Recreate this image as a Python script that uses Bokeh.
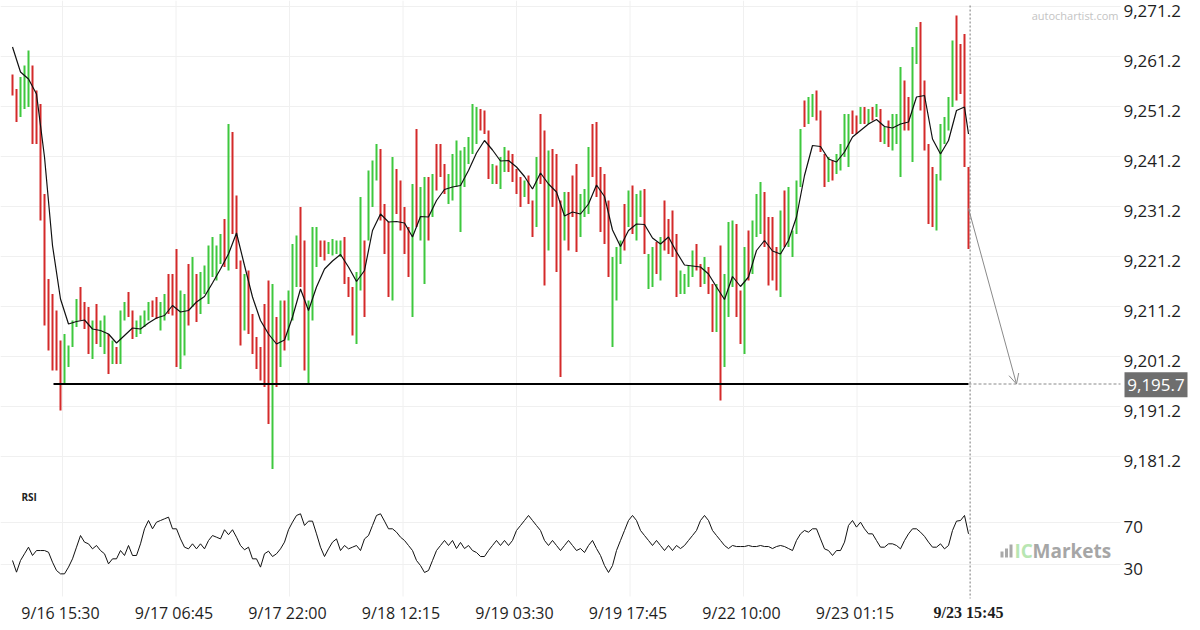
from bokeh.plotting import figure
from bokeh.models import Range1d, Span, Arrow, OpenHead, ColumnDataSource
from bokeh.core.properties import value
from bokeh.embed import file_html
from bokeh.resources import INLINE

# ---------------- data ----------------
high = [
    9257.6, 9254.7, 9257.1, 9259.4, 9262.4, 9259.4, 9254.4, 9251.7, 9233.7, 9216.7,
    9213.7, 9210.4, 9204.4, 9205.7, 9203.4, 9208.4, 9212.7, 9215.1, 9212.1, 9211.1,
    9208.4, 9211.7, 9208.4, 9209.4, 9205.7, 9204.4, 9203.1, 9210.4, 9212.1, 9214.1,
    9210.4, 9208.4, 9209.4, 9210.4, 9212.1, 9212.4, 9213.1, 9212.1, 9213.7, 9217.7,
    9217.7, 9222.7, 9214.4, 9213.7, 9219.7, 9221.1, 9217.7, 9218.1, 9219.4, 9223.4,
    9225.1, 9223.4, 9225.7, 9228.7, 9247.7, 9246.1, 9233.4, 9220.4, 9217.7, 9218.4,
    9209.7, 9205.1, 9203.1, 9211.7, 9216.4, 9215.7, 9209.1, 9212.4, 9212.4, 9214.4,
    9223.7, 9225.4, 9231.1, 9224.4, 9212.4, 9227.1, 9227.1, 9224.4, 9224.4, 9224.1,
    9224.7, 9224.4, 9224.4, 9225.1, 9217.1, 9215.1, 9218.1, 9233.1, 9224.4, 9238.4,
    9240.4, 9243.7, 9242.7, 9231.7, 9228.1, 9241.1, 9238.7, 9236.4, 9231.1, 9227.1,
    9235.7, 9246.7, 9235.1, 9237.1, 9237.1, 9237.7, 9243.7, 9243.7, 9239.7, 9237.7,
    9241.7, 9244.4, 9242.4, 9243.1, 9245.1, 9251.7, 9251.1, 9250.7, 9250.4, 9246.4,
    9239.7, 9239.4, 9241.1, 9243.1, 9242.4, 9241.7, 9238.7, 9237.1, 9236.4, 9237.4,
    9232.4, 9241.1, 9249.7, 9246.4, 9242.4, 9242.7, 9241.7, 9232.4, 9234.1, 9234.1,
    9237.4, 9239.7, 9233.7, 9234.7, 9243.1, 9247.7, 9248.1, 9239.1, 9237.7, 9232.4,
    9221.1, 9223.1, 9224.4, 9231.7, 9234.4, 9235.4, 9233.7, 9234.4, 9234.7, 9221.7,
    9223.1, 9224.1, 9225.1, 9232.4, 9228.7, 9230.4, 9225.7, 9218.4, 9217.7, 9219.4,
    9222.4, 9223.7, 9219.7, 9221.1, 9219.1, 9215.7, 9215.7, 9223.4, 9217.7, 9228.1,
    9228.4, 9227.7, 9214.4, 9223.1, 9226.4, 9228.4, 9233.7, 9236.1, 9234.1, 9229.1,
    9229.1, 9223.1, 9230.4, 9234.4, 9235.1, 9226.4, 9236.4, 9246.7, 9252.4, 9253.1,
    9253.7, 9254.4, 9250.4, 9241.7, 9241.1, 9240.4, 9241.7, 9243.7, 9249.7, 9249.7,
    9250.4, 9249.4, 9251.1, 9251.1, 9250.7, 9251.1, 9251.7, 9250.7, 9247.1, 9248.4,
    9249.7, 9249.7, 9259.1, 9256.4, 9253.1, 9263.1, 9267.1, 9268.1, 9256.4, 9243.7,
    9239.1, 9237.7, 9247.7, 9249.1, 9253.1, 9264.4, 9269.4, 9263.7, 9265.7, 9239.1,
]
low = [
    9253.4, 9248.1, 9249.1, 9250.7, 9251.1, 9243.7, 9243.7, 9228.4, 9207.4, 9202.4,
    9198.4, 9198.4, 9190.4, 9195.7, 9199.1, 9203.1, 9207.1, 9208.4, 9206.7, 9201.7,
    9200.7, 9203.7, 9203.1, 9201.7, 9197.7, 9199.7, 9199.7, 9199.7, 9208.4, 9209.1,
    9204.7, 9205.1, 9205.7, 9207.1, 9208.4, 9209.1, 9208.7, 9206.4, 9208.4, 9209.7,
    9209.4, 9199.1, 9198.7, 9201.4, 9207.4, 9211.1, 9208.1, 9209.7, 9213.7, 9211.7,
    9217.1, 9216.4, 9219.7, 9219.1, 9218.4, 9225.7, 9218.7, 9203.4, 9206.4, 9205.7,
    9201.7, 9198.7, 9196.4, 9195.1, 9187.7, 9178.7, 9195.1, 9199.1, 9202.4, 9204.4,
    9208.4, 9215.1, 9215.1, 9198.4, 9195.7, 9208.4, 9219.1, 9221.1, 9220.4, 9221.7,
    9221.4, 9221.7, 9221.1, 9215.7, 9213.1, 9205.4, 9203.7, 9214.4, 9209.1, 9224.4,
    9231.1, 9236.4, 9228.4, 9221.7, 9213.1, 9212.4, 9229.7, 9226.4, 9221.7, 9217.1,
    9209.1, 9227.1, 9224.4, 9215.7, 9224.4, 9229.1, 9234.4, 9237.1, 9233.7, 9231.7,
    9232.4, 9235.1, 9226.1, 9235.1, 9239.7, 9241.7, 9243.7, 9246.4, 9245.7, 9236.7,
    9235.7, 9235.7, 9234.7, 9238.1, 9238.1, 9236.1, 9233.7, 9231.1, 9233.1, 9231.7,
    9225.1, 9227.1, 9235.7, 9215.4, 9222.4, 9231.1, 9218.1, 9197.1, 9224.4, 9222.4,
    9229.1, 9222.1, 9225.1, 9229.1, 9229.7, 9237.1, 9233.1, 9226.1, 9223.7, 9217.1,
    9203.1, 9212.4, 9219.7, 9222.4, 9227.1, 9225.7, 9224.4, 9229.1, 9221.7, 9214.7,
    9215.1, 9217.7, 9216.4, 9222.4, 9221.7, 9221.1, 9213.1, 9213.7, 9213.7, 9215.1,
    9217.1, 9218.4, 9215.1, 9215.7, 9213.7, 9206.1, 9206.1, 9192.4, 9199.1, 9209.1,
    9215.1, 9209.1, 9203.7, 9201.7, 9216.4, 9217.7, 9225.1, 9225.7, 9223.1, 9215.4,
    9216.4, 9214.4, 9213.1, 9223.1, 9223.1, 9221.1, 9225.7, 9235.1, 9247.1, 9247.7,
    9249.1, 9248.4, 9242.1, 9235.1, 9236.1, 9236.4, 9237.7, 9238.4, 9241.1, 9239.1,
    9245.7, 9245.7, 9247.7, 9247.7, 9247.7, 9248.4, 9249.1, 9244.1, 9243.7, 9243.1,
    9242.4, 9243.7, 9237.1, 9246.4, 9246.4, 9240.1, 9259.7, 9250.4, 9242.4, 9227.7,
    9227.1, 9226.4, 9236.4, 9243.7, 9246.4, 9251.1, 9252.4, 9253.7, 9239.1, 9222.7,
]
# 1 = rising bar (green), 0 = falling bar (red)
up = [
    0, 0, 1, 1, 1, 0, 0, 0, 0, 0, 0, 0, 0, 1, 1, 1, 1, 0, 0, 0,
    1, 0, 1, 1, 0, 1, 0, 1, 1, 0, 0, 1, 1, 1, 1, 0, 0, 1, 1, 0,
    0, 0, 1, 1, 0, 1, 0, 1, 1, 1, 1, 1, 1, 0, 1, 0, 0, 0, 1, 0,
    0, 0, 0, 0, 0, 1, 0, 1, 0, 1, 1, 1, 0, 0, 1, 1, 1, 0, 0, 1,
    1, 1, 1, 0, 0, 0, 1, 1, 0, 1, 1, 1, 0, 0, 0, 1, 0, 0, 0, 0,
    1, 0, 1, 1, 0, 1, 0, 0, 0, 1, 1, 1, 1, 1, 1, 1, 1, 0, 0, 0,
    1, 0, 1, 1, 0, 0, 0, 0, 1, 0, 0, 1, 0, 0, 1, 0, 0, 0, 1, 0,
    0, 0, 1, 1, 1, 0, 0, 0, 0, 0, 1, 1, 1, 0, 1, 0, 1, 1, 0, 1,
    1, 0, 1, 0, 0, 0, 0, 1, 1, 1, 1, 0, 0, 1, 0, 0, 1, 0, 1, 1,
    1, 0, 0, 1, 0, 1, 1, 1, 0, 0, 0, 0, 1, 0, 1, 1, 1, 1, 0, 1,
    1, 0, 0, 0, 1, 0, 1, 1, 1, 1, 0, 0, 1, 0, 1, 0, 1, 0, 1, 0,
    1, 1, 1, 0, 0, 1, 1, 0, 0, 0, 0, 1, 1, 1, 1, 1, 0, 0, 0, 0,
]
# moving average, read every second bar (plus the last bar)
ma = [
    9263.1, 9258.1, 9256.7, 9253.7, 9241.1, 9223.4, 9212.7, 9207.7, 9208.2, 9208.5,
    9206.7, 9206.4, 9205.7, 9203.9, 9205.4, 9206.9, 9206.7, 9207.9, 9208.9, 9209.4,
    9211.4, 9210.1, 9210.4, 9212.1, 9213.2, 9215.9, 9218.7, 9221.7, 9225.9, 9219.4,
    9213.1, 9208.4, 9205.7, 9203.7, 9204.5, 9209.1, 9214.7, 9210.4, 9215.1, 9218.7,
    9220.3, 9221.6, 9219.1, 9216.2, 9218.4, 9226.4, 9229.7, 9228.1, 9228.2, 9227.9,
    9225.1, 9229.2, 9229.1, 9232.4, 9234.6, 9235.1, 9235.4, 9238.4, 9241.9, 9244.4,
    9242.5, 9240.3, 9240.4, 9239.1, 9237.2, 9234.7, 9237.9, 9235.7, 9234.1, 9229.3,
    9230.1, 9229.7, 9231.7, 9235.5, 9233.2, 9226.5, 9223.2, 9226.4, 9227.7, 9227.6,
    9224.9, 9223.7, 9225.1, 9222.1, 9219.5, 9219.3, 9219.1, 9217.7, 9215.1, 9212.6,
    9217.2, 9215.2, 9217.1, 9222.4, 9224.4, 9222.3, 9221.7, 9224.4, 9229.1, 9237.4,
    9243.4, 9243.2, 9240.7, 9240.1, 9242.1, 9245.1, 9246.4, 9247.7, 9248.6, 9247.2,
    9246.9, 9247.7, 9248.1, 9253.1, 9253.4, 9244.7, 9241.7, 9244.4, 9250.4, 9251.1,
    9245.7,
]
rsi = [
    33.8, 22.7, 33.8, 40.2, 46.5, 38.6, 43.3, 43.3, 43.3, 41.7,
    32.2, 24.3, 21.1, 21.1, 27.5, 35.4, 46.5, 57.6, 51.3, 49.7,
    44.9, 48.1, 43.3, 40.2, 30.6, 35.4, 35.4, 43.3, 38.6, 48.1,
    38.6, 38.6, 49.7, 64.0, 71.9, 64.0, 70.3, 71.9, 73.5, 75.1,
    64.0, 64.0, 54.4, 46.5, 44.9, 49.7, 44.9, 49.7, 44.9, 52.8,
    57.6, 56.0, 54.4, 63.1, 58.4, 63.1, 56.0, 48.1, 44.0, 46.5,
    35.4, 35.4, 27.5, 40.2, 42.7, 37.6, 40.2, 44.9, 51.3, 63.1,
    70.3, 76.7, 78.3, 67.2, 71.3, 71.3, 59.2, 46.5, 37.6, 44.9,
    51.3, 54.4, 43.3, 48.1, 44.9, 46.5, 48.1, 43.3, 54.4, 57.6,
    67.2, 76.7, 78.3, 71.3, 64.0, 64.0, 60.8, 56.0, 52.9, 48.1,
    43.3, 33.8, 29.0, 22.4, 24.3, 33.8, 43.3, 48.1, 52.9, 48.1,
    52.9, 45.2, 51.0, 45.2, 48.1, 43.3, 41.4, 37.6, 37.6, 43.3,
    48.1, 52.9, 48.1, 52.9, 48.1, 52.9, 62.4, 67.1, 71.9, 76.7,
    71.9, 67.1, 62.4, 52.9, 48.1, 52.9, 48.1, 43.3, 48.1, 52.9,
    48.1, 43.3, 45.2, 41.4, 48.1, 52.9, 45.2, 38.6, 29.0, 22.4,
    29.0, 43.3, 52.9, 62.4, 71.9, 76.7, 71.9, 62.4, 57.6, 52.9,
    48.1, 52.9, 48.1, 43.3, 48.1, 43.3, 48.1, 45.2, 48.1, 52.9,
    57.6, 62.4, 71.9, 76.7, 71.9, 62.4, 57.6, 52.9, 48.1, 45.2,
    48.1, 47.1, 47.1, 47.1, 48.1, 47.1, 47.1, 48.1, 47.1, 47.1,
    45.2, 47.1, 48.1, 47.1, 45.2, 43.3, 52.9, 59.2, 62.4, 60.8,
    64.0, 64.0, 54.4, 44.9, 43.3, 38.6, 43.3, 43.3, 51.3, 67.2,
    71.9, 65.6, 70.3, 64.0, 59.2, 59.2, 52.8, 46.5, 46.5, 49.7,
    49.7, 48.1, 44.9, 52.8, 59.2, 64.0, 64.0, 60.8, 56.8, 51.3,
    46.5, 46.5, 49.7, 44.9, 48.1, 62.4, 71.3, 71.9, 76.7, 59.2,
]
x_tick_labels = ["9/16 15:30", "9/17 06:45", "9/17 22:00", "9/18 12:15",
                 "9/19 03:30", "9/19 17:45", "9/22 10:00", "9/23 01:15", "9/23 15:45"]
y_ticks = [9181.2, 9191.2, 9201.2, 9211.2, 9221.2, 9231.2, 9241.2, 9251.2, 9261.2, 9271.2]
rsi_ticks = [30, 70]
support_level = 9195.7
support_from_bar = 10.25
last_close = 9230.8
forecast_bars = 12

# ---------------- layout constants (pixels -> data units) ----------------
# x: 4 px per bar, bar 0 at page x = 12 ; y main: 5 px per point ; RSI: 1.05 px per point
PX_X = 4.0
def xpx(px):            # page x -> bar index
    return (px - 12) / PX_X
def ypx(py):            # page y -> price
    return 9272.4 - py / 5.0
def rpx(py):            # page y -> RSI value
    return 30 + (564 - py) / 1.05

n = len(high)
last = n - 1
idx = list(range(n))
ma_x = list(range(0, n, 2)) + [last]
colors = ["#3ec83e" if u else "#d42a2a" for u in up]
x_tick_pos = [12 + 28.375 * k for k in range(len(x_tick_labels))]

FONT = value("Open Sans")
TXT = "#1e1e1e"
GRID = "#f0f0f0"
PLOT_RIGHT = xpx(1120)

p = figure(width=1200, height=630,
           x_range=Range1d(xpx(0), xpx(1200)), y_range=Range1d(ypx(630), ypx(0)),
           output_backend="svg", toolbar_location=None,
           x_axis_location=None, y_axis_location=None,
           min_border=0, min_border_left=0, min_border_right=0,
           min_border_top=0, min_border_bottom=0)
p.extra_y_ranges = {"rsi": Range1d(rpx(630), rpx(0))}
p.outline_line_color = None
p.xgrid.visible = False
p.ygrid.visible = False
p.background_fill_color = "white"

# ---- grid lines ----
p.segment(x0=[xpx(0)] * len(y_ticks), x1=[PLOT_RIGHT] * len(y_ticks),
          y0=y_ticks, y1=y_ticks, line_color=GRID, line_width=1)
p.segment(x0=[xpx(0)] * 2, x1=[PLOT_RIGHT] * 2, y0=rsi_ticks, y1=rsi_ticks,
          line_color=GRID, line_width=1, y_range_name="rsi")
vx = [x + 0.5 for x in x_tick_pos[:-1]]
p.segment(x0=vx, x1=vx, y0=[ypx(0)] * len(vx), y1=[ypx(596)] * len(vx),
          line_color=GRID, line_width=1)

# ---- price bars ----
src = ColumnDataSource(dict(x=idx, high=high, low=low, color=colors))
p.segment(x0="x", y0="low", x1="x", y1="high", line_color="color", line_width=2, source=src)
p.line(ma_x, ma, line_color="#111111", line_width=1.2)

# ---- support line, continuation, forecast arrow ----
p.line([support_from_bar, last], [support_level, support_level], line_color="black", line_width=2)
p.line([last, PLOT_RIGHT], [support_level, support_level], line_color="#8a8a8a",
       line_width=1, line_dash="3 2")
p.segment(x0=[last + 0.4], x1=[last + 0.4], y0=[ypx(5)], y1=[ypx(598)],
          line_color="#777777", line_width=1, line_dash="2 2")
p.add_layout(Arrow(end=OpenHead(size=10, line_color="#8a8a8a", line_width=1),
                   x_start=last, y_start=last_close,
                   x_end=last + forecast_bars, y_end=support_level,
                   line_color="#8a8a8a", line_width=1))

# ---- price axis labels (right) ----
p.text(x=[xpx(1123)] * len(y_ticks), y=[t - 0.9 for t in y_ticks],
       text=[f"{t:,.1f}" for t in y_ticks], text_font=FONT,
       text_font_size=value("17px"), text_color=TXT,
       text_align="left", text_baseline="middle")
# current-level box
p.rect(x=[xpx(1155.5)], y=[support_level - 0.15], width=63 / PX_X, height=5,
       fill_color="#6e6e6e", line_color=None)
p.text(x=[xpx(1155.5)], y=[support_level - 0.15], text=[f"{support_level:,.1f}"],
       text_font=FONT, text_font_size=value("17px"), text_color="white",
       text_align="center", text_baseline="middle")
p.text(x=[xpx(1118)], y=[ypx(15)], text=["autochartist.com"], text_font=FONT,
       text_font_size=value("11px"), text_color="#c4c4c4",
       text_align="right", text_baseline="middle")

# ---- RSI panel ----
p.line(idx, rsi, line_color="#111111", line_width=1, y_range_name="rsi")
p.text(x=[xpx(1123)] * 2, y=[r - 4.76 for r in rsi_ticks], text=[str(r) for r in rsi_ticks],
       text_font=FONT, text_font_size=value("17px"), text_color=TXT,
       text_align="left", text_baseline="middle", y_range_name="rsi")
p.text(x=[xpx(21)], y=[rpx(496)], text=["RSI"], text_font=FONT,
       text_font_size=value("10px"), text_font_style="bold", text_color="#222222",
       text_align="left", text_baseline="middle", y_range_name="rsi")

# ---- time axis labels ----
p.text(x=x_tick_pos[:-1], y=[rpx(612)] * (len(x_tick_pos) - 1), text=x_tick_labels[:-1],
       text_font=FONT, text_font_size=value("16px"), text_color=TXT,
       text_align="center", text_baseline="middle", y_range_name="rsi")
p.text(x=[x_tick_pos[-1]], y=[rpx(612)], text=[x_tick_labels[-1]],
       text_font=value("Liberation Sans Narrow"), text_font_size=value("16px"),
       text_font_style="bold", text_color=TXT,
       text_align="center", text_baseline="middle", y_range_name="rsi")

# ---- logo ----
p.quad(left=[xpx(1000), xpx(1004.5), xpx(1009)], right=[xpx(1003), xpx(1007.5), xpx(1012)],
       bottom=[rpx(557)] * 3, top=[rpx(551), rpx(548), rpx(544)],
       fill_color="#a9a9a9", line_color=None, y_range_name="rsi")
p.text(x=[xpx(1014)], y=[rpx(550)], text=["IC"], text_font=FONT,
       text_font_size=value("19px"), text_font_style="bold", text_color="#b8e6b2",
       text_align="left", text_baseline="middle", y_range_name="rsi")
p.text(x=[xpx(1032)], y=[rpx(550)], text=["Markets"], text_font=FONT,
       text_font_size=value("19px"), text_font_style="bold", text_color="#a6a6a6",
       text_align="left", text_baseline="middle", y_range_name="rsi")

open("out.html", "w").write(file_html(p, INLINE))
